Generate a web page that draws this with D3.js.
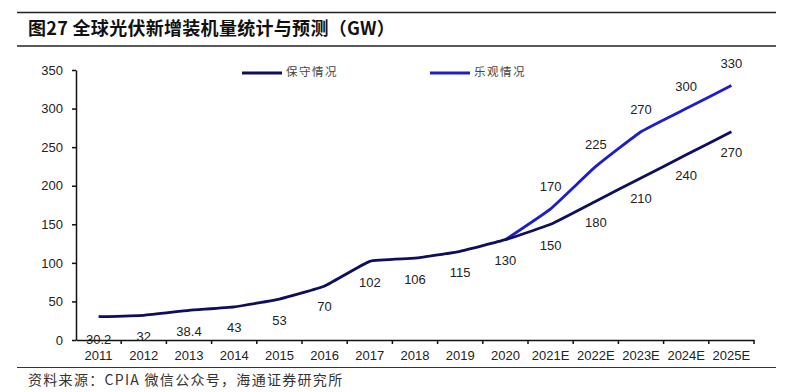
<!DOCTYPE html>
<html>
<head>
<meta charset="utf-8">
<script src="https://cdn.jsdelivr.net/npm/d3@7"></script>
<style>
  body { margin: 0; background: #fff; }
  svg text { font-family: "Liberation Sans", Arial, sans-serif; }
  .cjk { font-family: "Noto Sans CJK SC", sans-serif; }
</style>
</head>
<body>
<div id="chart"></div>
<script>
// data
const years = ["2011", "2012", "2013", "2014", "2015", "2016", "2017", "2018",
    "2019", "2020", "2021E", "2022E", "2023E", "2024E", "2025E"];
const conservative = [30.2, 32, 38.4, 43, 53, 70, 102, 106, 115, 130, 150, 180, 210, 240, 270];
const optimisticYears = ["2020", "2021E", "2022E", "2023E", "2024E", "2025E"];
const optimistic = [130, 170, 225, 270, 300, 330];
const yTicks = [0, 50, 100, 150, 200, 250, 300, 350];

const width = 799;
const height = 392;

const svg = d3.select("#chart")
    .append("svg")
    .attr("width", width)
    .attr("height", height);

// title and rules
svg.append("line").attr("x1", 17).attr("x2", 776).attr("y1", 12.5).attr("y2", 12.5)
    .attr("stroke", "#222").attr("stroke-width", 1.5);
svg.append("line").attr("x1", 17).attr("x2", 776).attr("y1", 46).attr("y2", 46)
    .attr("stroke", "#222").attr("stroke-width", 1.5);
svg.append("text").attr("class", "cjk")
    .attr("x", 28).attr("y", 30)
    .attr("dominant-baseline", "middle")
    .attr("font-size", 18).attr("font-weight", "bold").attr("fill", "#111")
    .attr("letter-spacing", 0.3)
    .text("图27 全球光伏新增装机量统计与预测（GW）");

svg.append("line").attr("x1", 17).attr("x2", 776).attr("y1", 367.5).attr("y2", 367.5)
    .attr("stroke", "#333").attr("stroke-width", 1.2);
svg.append("text").attr("class", "cjk")
    .attr("x", 28).attr("y", 381)
    .attr("dominant-baseline", "middle")
    .attr("font-size", 14).attr("letter-spacing", 1.3).attr("fill", "#333")
    .text("资料来源：CPIA 微信公众号，海通证券研究所");

// scales
const x = d3.scaleBand().domain(years).range([76, 754]);
const y = d3.scaleLinear().domain([0, 350]).range([340, 70]);
const cx = d => x(d) + x.bandwidth() / 2;

// y axis
const yAxis = svg.append("g")
    .attr("transform", "translate(76,0)")
    .call(d3.axisLeft(y).tickValues(yTicks).tickSize(4).tickPadding(9).tickSizeOuter(0));
yAxis.select(".domain").attr("stroke", "#111").attr("stroke-width", 1.5);
yAxis.selectAll(".tick line").attr("stroke", "#111").attr("stroke-width", 1.5);
yAxis.selectAll("text").attr("font-size", 13).attr("fill", "#222")
    .style("font-family", "Liberation Sans, Arial, sans-serif");

// x axis: labels at centers, ticks at band edges
const xAxis = svg.append("g")
    .attr("transform", "translate(0,340)")
    .call(d3.axisBottom(x).tickSize(0).tickPadding(11).tickSizeOuter(0));
xAxis.select(".domain").attr("stroke", "#111").attr("stroke-width", 1.5);
xAxis.selectAll("text").attr("font-size", 13).attr("fill", "#222")
    .style("font-family", "Liberation Sans, Arial, sans-serif");
xAxis.selectAll(".edge")
    .data(years.slice(1).concat(["end"]))
    .enter().append("line")
    .attr("class", "edge")
    .attr("x1", d => d === "end" ? x.range()[1] : x(d))
    .attr("x2", d => d === "end" ? x.range()[1] : x(d))
    .attr("y1", 0).attr("y2", 4)
    .attr("stroke", "#111").attr("stroke-width", 1.5);

// lines
const lineGen = d3.line()
    .x(d => cx(d[0]))
    .y(d => y(d[1]))
    .curve(d3.curveCardinal.tension(0.65));

const optPts = optimisticYears.map((d, i) => [d, optimistic[i]]);
const consPts = years.map((d, i) => [d, conservative[i]]);

svg.append("path").datum(optPts)
    .attr("d", lineGen)
    .attr("fill", "none").attr("stroke", "#1e1ec8").attr("stroke-width", 2.8);
svg.append("path").datum(consPts)
    .attr("d", lineGen)
    .attr("fill", "none").attr("stroke", "#0e0e5c").attr("stroke-width", 2.8);

// data labels
svg.selectAll(".lbl-cons").data(consPts).enter().append("text")
    .attr("class", "lbl-cons")
    .attr("x", d => cx(d[0]))
    .attr("y", d => d[0] === "2011" ? y(d[1]) + 24 : y(d[1]) + 22)
    .attr("text-anchor", "middle").attr("dominant-baseline", "middle")
    .attr("font-size", 13).attr("fill", "#222")
    .text(d => d[1]);

svg.selectAll(".lbl-opt").data(optPts.slice(1)).enter().append("text")
    .attr("class", "lbl-opt")
    .attr("x", d => cx(d[0]))
    .attr("y", d => y(d[1]) - 21)
    .attr("text-anchor", "middle").attr("dominant-baseline", "middle")
    .attr("font-size", 13).attr("fill", "#222")
    .text(d => d[1]);

// legend
const legend = [
    { name: "保守情况", color: "#0e0e5c", x: 242 },
    { name: "乐观情况", color: "#1e1ec8", x: 430 }
];
const lg = svg.selectAll(".legend").data(legend).enter().append("g")
    .attr("class", "legend")
    .attr("transform", d => "translate(" + d.x + ",73)");
lg.append("line").attr("x1", 0).attr("x2", 40).attr("y1", 0).attr("y2", 0)
    .attr("stroke", d => d.color).attr("stroke-width", 3);
lg.append("text").attr("class", "cjk")
    .attr("x", 44).attr("y", 0)
    .attr("dominant-baseline", "middle")
    .attr("font-size", 11.5).attr("letter-spacing", 1.5).attr("fill", "#444")
    .text(d => d.name);
</script>
</body>
</html>
